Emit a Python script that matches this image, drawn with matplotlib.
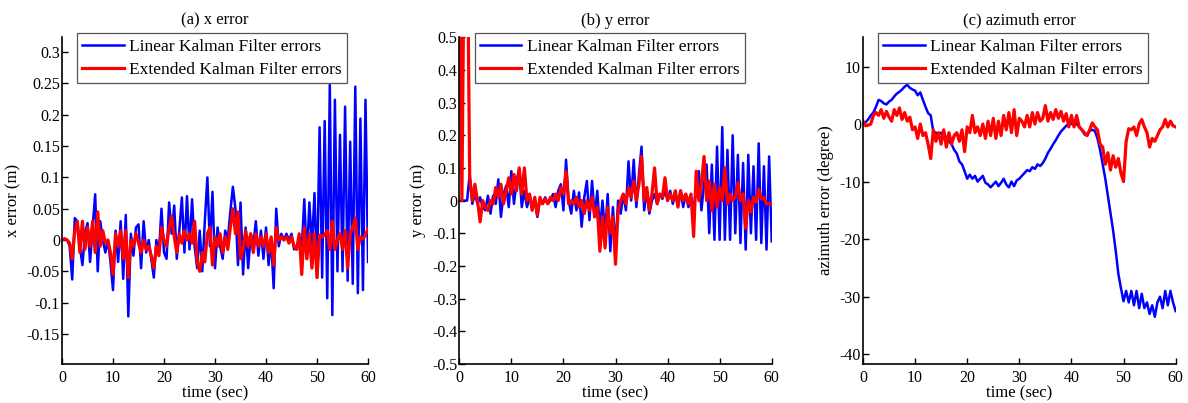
import numpy as np
import matplotlib
matplotlib.use('Agg')
import matplotlib.pyplot as plt

# tempo de amostragem (s)
t = np.arange(0, 60.5, 0.5)

# (a) erro em x (m)
x_lkf = [0, 0.002, 0, -0.01, -0.063, 0.035, 0.03, -0.01, -0.04, 0.01,
         0.027, -0.035, 0.02, 0.073, -0.05, 0.03, 0.0, -0.02, 0.0, -0.035,
         -0.08, 0.015, -0.035, 0.03, -0.062, 0.04, -0.122, 0.01, -0.025, 0.02,
         0.025, -0.045, 0.03, -0.02, 0.0, -0.03, -0.06, 0.0, -0.02, 0.05,
         -0.02, -0.03, 0.06, 0.01, 0.055, -0.03, 0.015, 0.068, -0.02, 0.07,
         -0.015, 0.065, -0.01, -0.045, 0.015, -0.05, 0.03, 0.1, -0.01, 0.077,
         -0.045, 0.02, -0.01, -0.03, 0.015, 0.0, 0.045, 0.085, 0.05, -0.04,
         0.06, -0.055, 0.02, -0.045, 0.01, -0.01, 0.03, -0.025, 0.015, -0.03,
         0.02, -0.04, 0.0, -0.077, 0.05, -0.01, 0.01, 0.0, 0.01, 0.0,
         0.01, -0.015, -0.01, 0.0, -0.015, 0.065, -0.03, 0.06, -0.01, 0.075,
         -0.06, 0.18, -0.06, 0.19, -0.093, 0.248, -0.12, 0.224, -0.05, 0.168,
         -0.05, 0.213, -0.065, 0.157, -0.07, 0.245, -0.085, 0.194, -0.08, 0.224,
         -0.035]
x_ekf = [0, 0.002, 0, -0.005, -0.03, 0.015, 0.03, -0.02, 0.03, -0.015,
         0.02, -0.01, 0.03, -0.02, 0.045, -0.01, 0.015, -0.005, 0.0, -0.02,
         -0.055, 0.01, -0.01, 0.015, -0.03, 0.015, -0.06, 0.0, -0.01, 0.01,
         -0.005, -0.02, 0.0, -0.015, -0.01, -0.025, -0.045, -0.01, -0.025, 0.02,
         0.0, -0.01, 0.02, 0.038, 0.005, -0.02, 0.01, -0.005, 0.015, 0.0,
         0.01, -0.005, 0.03, -0.035, -0.05, -0.02, -0.035, 0.01, 0.02, -0.04,
         0.005, -0.01, 0.01, -0.02, 0.005, -0.015, 0.02, 0.05, 0.01, 0.045,
         -0.03, -0.015, 0.015, -0.01, 0.01, -0.02, 0.01, -0.01, 0.005, -0.01,
         0.01, -0.02, 0.005, -0.04, 0.02, 0.0, 0.005, 0.0, 0.005, -0.005,
         0.005, -0.01, -0.015, 0.01, -0.055, 0.02, -0.03, 0.01, -0.045, 0.01,
         -0.06, 0.008, 0.005, 0.008, 0.015, -0.015, 0.03, -0.015, 0.0, 0.01,
         -0.015, 0.015, -0.045, 0.01, 0.02, 0.035, -0.015, 0.005, 0.002, 0.008,
         0.018]

# (b) erro em y (m)
y_lkf = [0.0, 0.0, 0.0, 0.0, 0.08, -0.01, 0.02, -0.01, 0.01, -0.02,
         -0.03, 0.015, -0.04, 0.015, -0.01, 0.065, -0.05, 0.02, 0.045, -0.02,
         0.09, -0.01, 0.06, 0.095, -0.02, 0.03, -0.02, 0.01, -0.01, 0.0,
         -0.05, 0.005, -0.01, 0.01, -0.01, 0.0, 0.02, -0.02, 0.03, 0.05,
         -0.03, 0.125, 0.0, -0.04, 0.03, -0.03, 0.025, -0.08, 0.01, 0.06,
         -0.06, 0.06, -0.05, 0.03, -0.09, 0.0, -0.1, 0.02, -0.155, -0.02,
         -0.145, 0.0, -0.04, 0.02, -0.03, 0.12, 0.0, 0.125, -0.02, 0.08,
         0.165, -0.03, 0.03, -0.04, 0.0, 0.02, -0.01, 0.02, 0.005, 0.03,
         0.0, 0.03, -0.01, 0.02, -0.015, 0.03, -0.02, 0.02, -0.02, 0.01,
         -0.03, 0.04, 0.09, -0.03, 0.05, 0.11, -0.1, 0.11, -0.12, 0.165,
         -0.12, 0.225, -0.12, 0.155, -0.12, 0.2, -0.1, 0.14, -0.13, 0.115,
         -0.15, 0.14, -0.1, 0.105, -0.12, 0.175, -0.13, 0.105, -0.15, 0.135,
         -0.125]
y_ekf = [0.8, 0.0, 0.9, 0.9, 0.07, 0.0, 0.05, 0.0, -0.065, 0.0,
         -0.02, -0.03, 0.0, -0.01, 0.04, 0.01, 0.05, -0.01, 0.03, 0.07,
         0.02, 0.08, 0.03, 0.1, 0.02, 0.1, 0.0, 0.02, -0.03, 0.01,
         -0.045, 0.01, -0.01, 0.005, -0.01, 0.01, 0.0, 0.02, 0.0, 0.04,
         0.02, 0.09, -0.01, 0.0, -0.01, 0.01, -0.02, 0.0, -0.04, 0.0,
         -0.03, 0.01, -0.05, -0.02, -0.155, -0.05, -0.145, -0.02, -0.1, -0.05,
         -0.195, -0.03, 0.0, 0.02, -0.01, 0.04, 0.01, 0.06, 0.0, 0.05,
         0.135, 0.0, 0.04, -0.03, 0.02, 0.1, -0.01, 0.02, 0.01, 0.07,
         0.0, 0.02, 0.0, 0.03, -0.02, 0.03, 0.0, 0.02, -0.01, 0.02,
         -0.11, 0.09, 0.0, 0.05, 0.135, 0.0, 0.06, -0.03, 0.05, -0.02,
         0.04, 0.0, 0.1, -0.01, 0.02, 0.0, 0.01, 0.055, 0.0, 0.02,
         -0.085, 0.0, -0.035, 0.01, -0.005, 0.035, 0.005, 0.01, -0.01, -0.01,
         -0.01]

# (c) erro de azimute (graus)
az_lkf = [0.0, 0.3, 0.8, 1.5, 2.0, 3.0, 4.2, 4.0, 3.6, 3.4,
          3.9, 4.2, 4.8, 5.3, 5.6, 6.0, 6.5, 6.8, 6.3, 6.0,
          5.8, 5.0, 5.5, 4.2, 3.0, 1.9, 1.5, -1.3, -1.5, -1.8,
          -1.5, -2.0, -2.2, -3.0, -3.5, -4.5, -5.1, -6.5, -7.0, -8.2,
          -9.5, -8.8, -9.5, -9.0, -10.0, -9.5, -9.0, -10.2, -10.5, -11.0,
          -10.5, -10.0, -10.8, -10.2, -9.5, -10.5, -11.0, -10.0, -10.8, -9.8,
          -9.5, -9.0, -8.5, -8.0, -8.2, -7.5, -7.8, -7.0, -7.3, -6.8,
          -6.0, -5.0, -4.3, -3.5, -2.8, -2.0, -1.3, -0.8, -0.3, 0.0,
          0.0, 0.2, 0.0, -0.5, -1.0, -1.8, -2.0, -1.2, -1.0, -1.2,
          -2.5, -4.5, -7.0, -9.5, -12.5, -15.5, -18.5, -22.0, -26.0, -28.5,
          -30.8, -29.0, -31.0, -29.0, -31.5, -29.0, -32.0, -29.5, -32.0, -31.0,
          -33.0, -31.5, -33.5, -31.0, -30.0, -32.0, -29.0, -31.5, -29.0, -31.0,
          -32.5]
az_ekf = [0.5, -0.3, -0.2, 0.0, 1.5, 2.0, 1.5, 2.5, 1.0, 2.2,
          1.2, 0.5, 2.5, 1.5, 2.8, 0.8, 2.0, 0.5, 1.2, -1.0,
          -0.5, -2.5, 0.0, -2.0, -1.5, -3.5, -6.0, -1.0, -3.0, -1.5,
          -3.5, -1.0, -4.0, -1.5, -3.5, -2.0, -1.5, -3.0, -1.0, -4.8,
          -0.5, -1.5, 1.5, -1.5, -0.5, -2.0, 0.0, -2.5, 0.5, -2.0,
          1.0, -2.5, 0.5, -2.0, 1.5, -1.0, 2.0, -1.5, 2.5, -2.0,
          1.0, 0.5, -0.5, 1.5, -0.5, 2.0, 0.0, 2.0, 0.5, 1.0,
          3.2, 0.5, 2.0, 0.8, 2.5, 1.0, 2.2, 0.5, 1.8, -0.5,
          1.5, -0.5, 1.5, -0.5, -1.0, -1.5, -2.0, -1.0, 0.2, -0.5,
          -1.0, -3.5, -4.0, -7.0, -5.0, -8.0, -5.5, -7.5, -6.0, -8.5,
          -10.0, -3.0, -0.8, -1.0, -0.5, -2.0, 0.0, 0.8, -0.5, -1.5,
          -4.0, -2.5, -3.0, -2.0, -1.0, -0.5, 0.8, -0.5, 0.5, -0.3,
          -0.5]

titles = ['(a) x error', '(b) y error', '(c) azimuth error']
ylabels = ['x error (m)', 'y error (m)', 'azimuth error (degree)']
labels = ['Linear Kalman Filter errors', 'Extended Kalman Filter errors']
xticks = [0, 10, 20, 30, 40, 50, 60]
yticks_a = [-0.15, -0.1, -0.05, 0, 0.05, 0.1, 0.15, 0.2, 0.25, 0.3]
yticks_b = [-0.5, -0.4, -0.3, -0.2, -0.1, 0, 0.1, 0.2, 0.3, 0.4, 0.5]
yticks_c = [-40, -30, -20, -10, 0, 10]

plt.rcParams['font.family'] = ['Liberation Serif', 'DejaVu Serif']
plt.rcParams['axes.unicode_minus'] = False

fig = plt.figure(figsize=(11.88, 4.03), dpi=100)

lefts = [0.0522, 0.3866, 0.7264]
widths = [0.2576, 0.263, 0.2632]
series = [(x_lkf, x_ekf), (y_lkf, y_ekf), (az_lkf, az_ekf)]
ylims = [(-0.198, 0.324), (-0.5, 0.5), (-41.7, 15.1)]
yticks = [yticks_a, yticks_b, yticks_c]

for i in range(3):
    ax = fig.add_axes([lefts[i], 0.0968, widths[i], 0.811])
    lkf, ekf = series[i]
    ax.plot(t, lkf, color='#0000ff', lw=1.8, label=labels[0])
    ax.plot(t, ekf, color='#ff0000', lw=2.3, label=labels[1])
    ax.set_xlim(0, 60)
    ax.set_ylim(*ylims[i])
    ax.set_xticks(xticks)
    ax.set_yticks(yticks[i])
    ax.set_yticklabels(['%g' % v for v in yticks[i]])
    ax.spines['top'].set_visible(False)
    ax.spines['right'].set_visible(False)
    ax.spines['left'].set_linewidth(1.2)
    ax.spines['bottom'].set_linewidth(1.2)
    ax.tick_params(direction='in', length=4, width=1, labelsize=11.5)
    ax.tick_params(axis='y', pad=1.5)
    ax.tick_params(axis='x', pad=4)
    ax.set_title(titles[i], fontsize=12, pad=9)
    ax.set_xlabel('time (sec)', fontsize=12, labelpad=0)
    ax.set_ylabel(ylabels[i], fontsize=12, labelpad=4)
    leg = ax.legend(loc='upper left', bbox_to_anchor=(0.049, 1.012), borderaxespad=0,
                    fontsize=12.5, fancybox=False, framealpha=1, edgecolor='#555555',
                    handlelength=2.4, handletextpad=0.3, labelspacing=0.42, borderpad=0.3)
    leg.get_frame().set_linewidth(0.9)

fig.savefig('out.png', dpi=100)
